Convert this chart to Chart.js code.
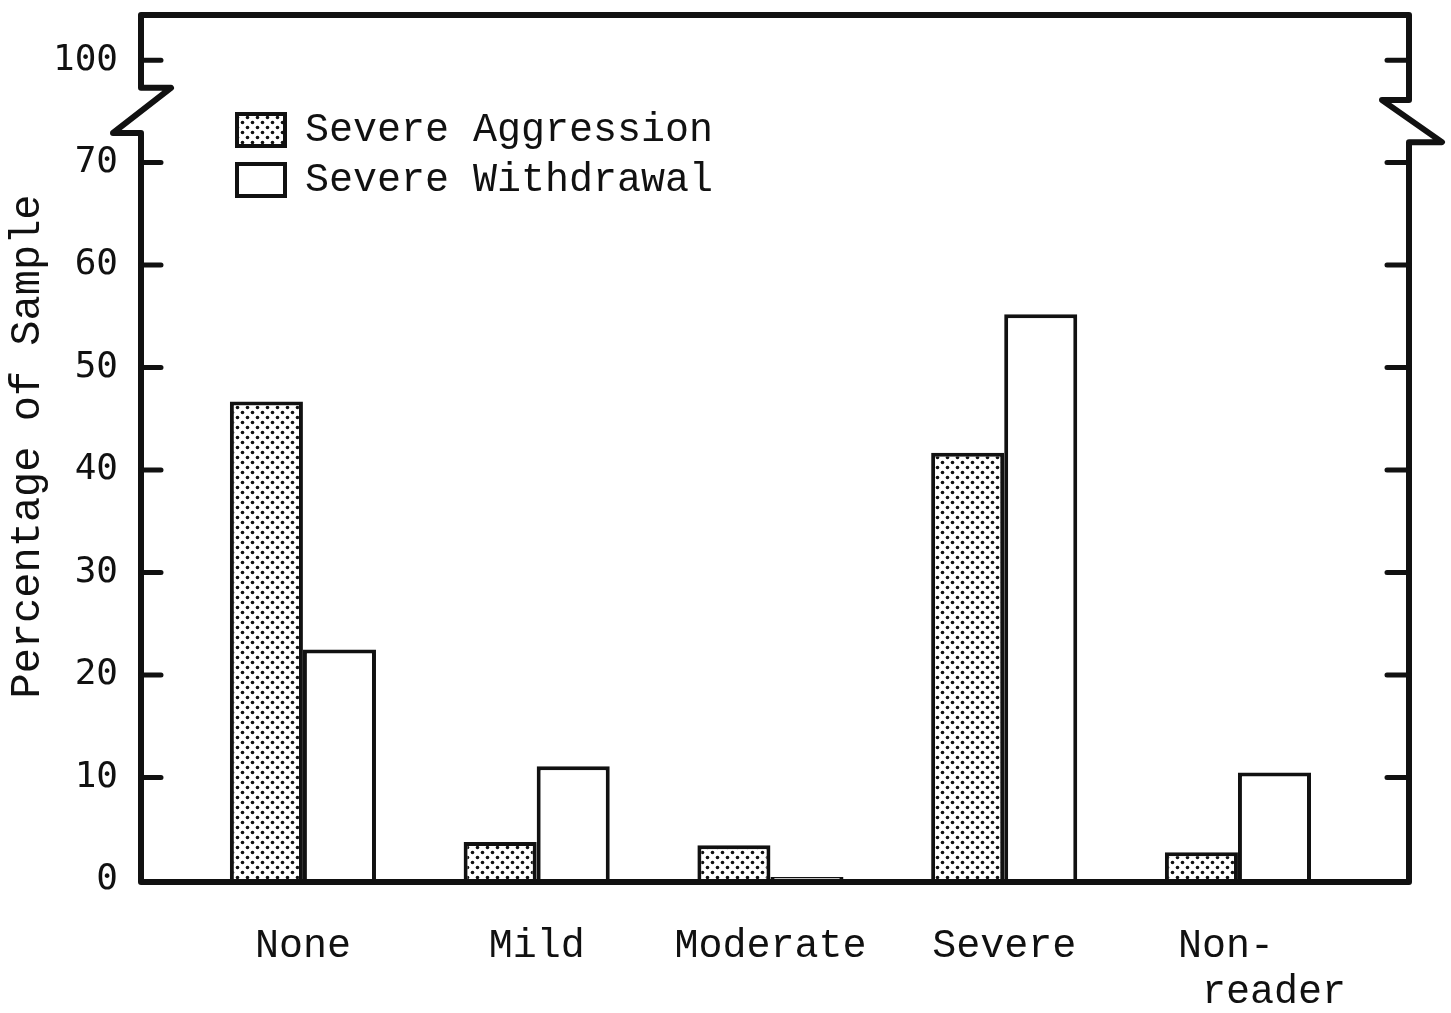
<!DOCTYPE html>
<html>
<head>
<meta charset="utf-8">
<script src="https://cdn.jsdelivr.net/npm/chart.js@4.4.0/dist/chart.umd.min.js"></script>
<style>
  html, body { margin: 0; padding: 0; background: #fff; }
  #wrap { width: 1451px; height: 1013px; }
</style>
</head>
<body>
<div id="wrap"><canvas id="myChart"></canvas></div>
<script>
// data
const categories = ['None', 'Mild', 'Moderate', 'Severe', 'Non-reader'];
const aggression = [46.7, 3.7, 3.4, 41.7, 2.7];
const withdrawal = [22.5, 11.1, 0.3, 55.2, 10.5];
const seriesNames = ['Severe Aggression', 'Severe Withdrawal'];
// axis is broken above 70, the top tick (drawn at 80) reads 100
const yTicks = [0, 10, 20, 30, 40, 50, 60, 70, 80];
const yTickLabels = ['0', '10', '20', '30', '40', '50', '60', '70', '100'];

const INK = '#111';

function dotPattern() {
    const c = document.createElement('canvas');
    c.width = 10; c.height = 10;
    const g = c.getContext('2d');
    g.fillStyle = '#fff';
    g.fillRect(0, 0, 10, 10);
    g.fillStyle = INK;
    [[2.5, 2.5], [7.5, 7.5]].forEach(([x, y]) => {
        g.beginPath();
        g.arc(x, y, 1.8, 0, Math.PI * 2);
        g.fill();
    });
    return g.createPattern(c, 'repeat');
}

// frame with the axis breaks and inward ticks
const framePlugin = {
    id: 'frame',
    afterLayout(chart) {
        // move legend down/right inside the plot
        const lg = chart.legend;
        if (lg) {
            lg.left += 87; lg.right += 87;
            lg.top += 100; lg.bottom += 100;
        }
    },
    afterDatasetsDraw(chart) {
        const { ctx, chartArea: a, scales: { y } } = chart;
        const L = a.left + 1, R = a.right - 1, T = a.top + 2;
        const B = y.getPixelForValue(0) + 2;
        const lb1 = y.getPixelForValue(77.3), lb2 = y.getPixelForValue(72.9);
        const rb1 = y.getPixelForValue(76.1), rb2 = y.getPixelForValue(72.0);
        ctx.save();
        ctx.strokeStyle = INK;
        ctx.lineWidth = 6;
        ctx.lineJoin = 'round';
        ctx.lineCap = 'round';
        ctx.beginPath();
        ctx.moveTo(L, B);
        ctx.lineTo(L, lb2);
        ctx.lineTo(L - 28, lb2);
        ctx.lineTo(L + 30, lb1);
        ctx.lineTo(L, lb1);
        ctx.lineTo(L, T);
        ctx.lineTo(R, T);
        ctx.lineTo(R, rb1);
        ctx.lineTo(R - 27, rb1);
        ctx.lineTo(R + 33, rb2);
        ctx.lineTo(R, rb2);
        ctx.lineTo(R, B);
        ctx.closePath();
        ctx.stroke();

        ctx.lineWidth = 5;
        yTicks.forEach(v => {
            if (v === 0) return;
            const py = y.getPixelForValue(v);
            ctx.beginPath();
            ctx.moveTo(L, py); ctx.lineTo(L + 20, py);
            ctx.moveTo(R, py); ctx.lineTo(R - 22, py);
            ctx.stroke();
        });
        ctx.restore();
    }
};

Chart.defaults.font.family = 'Liberation Mono';
Chart.defaults.color = INK;

const pattern = dotPattern();

new Chart(document.getElementById('myChart'), {
    type: 'bar',
    data: {
        datasets: [
            {
                label: seriesNames[0],
                data: aggression.map((v, i) => ({ x: i, y: v })),
                backgroundColor: pattern,
                borderColor: INK,
                borderWidth: 4
            },
            {
                label: seriesNames[1],
                data: withdrawal.map((v, i) => ({ x: i, y: v })),
                backgroundColor: '#fff',
                borderColor: INK,
                borderWidth: 4
            }
        ]
    },
    options: {
        responsive: true,
        maintainAspectRatio: false,
        animation: false,
        categoryPercentage: 0.625,
        barPercentage: 1,
        layout: { padding: { top: 13, right: 41, left: 0, bottom: 0 } },
        plugins: {
            tooltip: { enabled: false },
            legend: {
                position: 'chartArea',
                align: 'start',
                labels: {
                    boxWidth: 48,
                    boxHeight: 32,
                    padding: 10,
                    color: INK,
                    font: { family: 'Liberation Mono', size: 40 }
                }
            }
        },
        scales: {
            x: {
                type: 'linear',
                offset: false,
                min: -0.697,
                max: 4.736,
                afterBuildTicks: s => { s.ticks = categories.map((c, i) => ({ value: i })); },
                afterFit: s => { s.height = 133; s.paddingLeft = 0; s.paddingRight = 0; },
                grid: { display: false },
                border: { display: false },
                ticks: {
                    autoSkip: false,
                    maxRotation: 0,
                    padding: 35,
                    color: INK,
                    font: { family: 'Liberation Mono', size: 40, lineHeight: 1.15 },
                    callback: (v, i) => {
                        const lbl = categories[i];
                        return lbl === 'Non-reader' ? ['Non- ', '   reader'] : lbl;
                    }
                }
            },
            y: {
                type: 'linear',
                min: 0,
                max: 84.6,
                afterBuildTicks: s => { s.ticks = yTicks.map(v => ({ value: v })); },
                afterFit: s => { s.width = 140; s.paddingTop = 0; s.paddingBottom = 0; },
                grid: { display: false },
                border: { display: false },
                ticks: {
                    padding: 14,
                    color: INK,
                    font: { family: 'DejaVu Sans Mono', size: 36 },
                    callback: (v, i) => yTickLabels[i]
                },
                title: {
                    display: true,
                    text: 'Percentage of Sample',
                    color: INK,
                    font: { family: 'Liberation Mono', size: 42 },
                    padding: { top: 3, bottom: 0 }
                }
            }
        }
    },
    plugins: [framePlugin]
});
</script>
</body>
</html>
